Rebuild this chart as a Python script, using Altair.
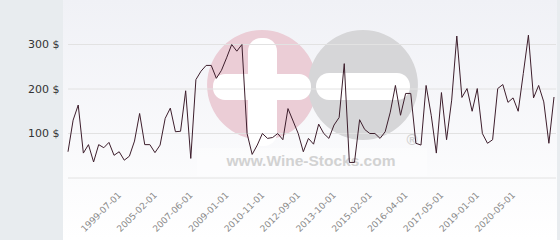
import altair as alt
import pandas as pd

# Series values (price in $), one per period
prices = [59, 130, 164, 56, 75, 36, 75, 68, 80, 51,
          59, 40, 49, 83, 145, 75, 75, 57, 74, 134,
          157, 104, 105, 196, 44, 221, 240, 253, 253, 224,
          242, 270, 300, 285, 300, 100, 53, 74, 100, 89,
          91, 100, 86, 156, 128, 100, 59, 89, 76, 121,
          100, 89, 119, 136, 257, 35, 35, 131, 109, 100,
          100, 89, 104, 148, 208, 141, 190, 190, 78, 74,
          208, 141, 56, 192, 86, 175, 319, 181, 201, 150,
          201, 100, 78, 86, 201, 210, 170, 180, 150, 235,
          321, 180, 208, 171, 78, 182]

# Category positions that carry a label, and their labels
tick_index = [10, 17, 24, 31, 38, 45, 52, 59, 66, 73, 80, 87]
tick_labels = ["1999-07-01", "2005-02-01", "2007-06-01", "2009-01-01",
               "2010-11-01", "2012-09-01", "2013-10-01", "2015-02-01",
               "2016-04-01", "2017-05-01", "2019-01-01", "2020-05-01"]

y_ticks = [100, 200, 300]
grid_values = [0, 100, 200, 300]

df = pd.DataFrame({"idx": list(range(len(prices))), "price": prices})
one = pd.DataFrame({"k": [0]})
grid_df = pd.DataFrame({"g": grid_values})

W, H = 486, 178

x_label_expr = ""
for i, lab in zip(tick_index, tick_labels):
    x_label_expr += "datum.value == %d ? '%s' : " % (i, lab)
x_label_expr += "''"

x_scale = alt.Scale(domain=[0, len(prices) - 1], nice=False, zero=False)
y_scale = alt.Scale(domain=[0, 400], nice=False)

bg = alt.Chart(one).mark_rect(
    color=alt.Gradient(gradient="linear",
                       stops=[alt.GradientStop(color="#f0f1f6", offset=0),
                              alt.GradientStop(color="#ffffff", offset=1)],
                       x1=0, x2=0, y1=0, y2=1)
).encode(x=alt.value(-5), x2=alt.value(489), y=alt.value(0), y2=alt.value(240))

pink = alt.Chart(one).mark_circle(color="#ebcdd6", opacity=1, size=12076).encode(
    x=alt.value(194), y=alt.value(85))
grey = alt.Chart(one).mark_circle(color="#d6d6d8", opacity=1, size=12076).encode(
    x=alt.value(295), y=alt.value(85))

bar_h = alt.Chart(one).mark_rect(color="#ffffff", cornerRadius=12).encode(
    x=alt.value(145), x2=alt.value(243), y=alt.value(74), y2=alt.value(100))
bar_v = alt.Chart(one).mark_rect(color="#ffffff", cornerRadius=13).encode(
    x=alt.value(180), x2=alt.value(209), y=alt.value(38), y2=alt.value(146))
bar_g = alt.Chart(one).mark_rect(color="#ffffff", cornerRadius=13).encode(
    x=alt.value(248), x2=alt.value(342), y=alt.value(73), y2=alt.value(100))

text_box = alt.Chart(one).mark_rect(color="#ffffff", opacity=0.35).encode(
    x=alt.value(129), x2=alt.value(359), y=alt.value(148), y2=alt.value(176))
wm_text = alt.Chart(one).mark_text(
    font="Liberation Sans", fontSize=15.5, fontWeight="bold", color="#d2d2d2",
    align="center", baseline="middle"
).encode(x=alt.value(243), y=alt.value(161), text=alt.value("www.Wine-Stocks.com"))
wm_reg = alt.Chart(one).mark_text(
    font="Liberation Sans", fontSize=15, fontWeight="bold", color="#d2d2d2",
    align="center", baseline="middle"
).encode(x=alt.value(344), y=alt.value(140), text=alt.value("®"))

grid = alt.Chart(grid_df).mark_rule(color="#e2e2e2", strokeWidth=1).encode(
    x=alt.value(0), x2=alt.value(488),
    y=alt.Y("g:Q", scale=y_scale, title=None))

line = alt.Chart(df).mark_line(color="#3d1e2c", strokeWidth=1).encode(
    x=alt.X("idx:Q", scale=x_scale, title=None,
            axis=alt.Axis(values=tick_index, labelExpr=x_label_expr,
                          labelAngle=315, labelAlign="right", labelBaseline="middle",
                          labelPadding=15, tickSize=0, ticks=False, domain=False,
                          grid=False, labelFontSize=9, labelColor="#8a8a8a",
                          labelFont="DejaVu Sans", labelOverlap=False, labelFlush=False,
                          zindex=1)),
    y=alt.Y("price:Q", scale=y_scale, title=None,
            axis=alt.Axis(values=y_ticks, labelExpr="datum.value + ' $'",
                          tickSize=0, ticks=False, domain=False, grid=False,
                          labelPadding=9, labelFontSize=11, labelColor="#333333",
                          labelFont="DejaVu Sans", zindex=1)),
)

chart = alt.layer(bg, pink, grey, bar_h, bar_v, bar_g, text_box, wm_text, wm_reg, grid, line).properties(
    width=W, height=H,
    padding={"left": 68, "top": 0, "right": 6, "bottom": 62},
    autosize=alt.AutoSizeParams(type="none"),
    background="#e8ecef",
).configure_view(strokeWidth=0)

chart.save("out.html", embed_options={"renderer": "svg", "actions": False})
